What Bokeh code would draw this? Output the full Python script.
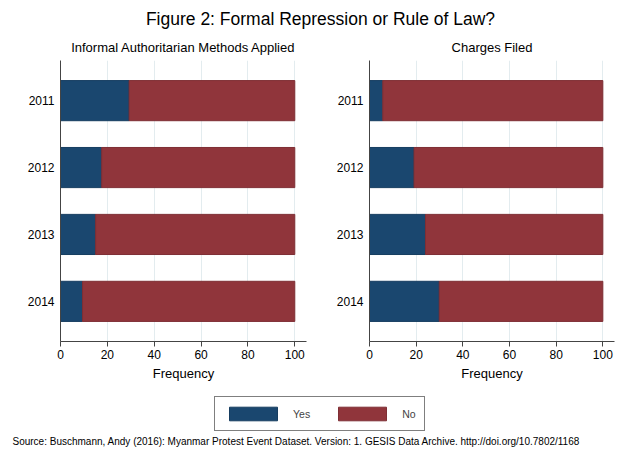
from bokeh.plotting import figure
from bokeh.models import (Range1d, FactorRange, Label, Legend, LegendItem,
                          ColumnDataSource, FixedTicker)
from bokeh.layouts import column, row
from bokeh.embed import file_html
from bokeh.resources import INLINE

# ---------------- data ----------------
years = ["2011", "2012", "2013", "2014"]
series = ["Yes", "No"]
informal_yes = [29.3, 17.6, 15.0, 9.4]
informal_no = [70.7, 82.4, 85.0, 90.6]
charges_yes = [5.7, 19.1, 24.0, 29.9]
charges_no = [94.3, 80.9, 76.0, 70.1]
x_ticks = [0, 20, 40, 60, 80, 100]
main_title = "Figure 2: Formal Repression or Rule of Law?"
panel_titles = ["Informal Authoritarian Methods Applied", "Charges Filed"]
x_label = "Frequency"
source_note = ("Source: Buschmann, Andy (2016): Myanmar Protest Event Dataset. "
               "Version: 1. GESIS Data Archive. http://doi.org/10.7802/1168")

# ---------------- style ----------------
NAVY = "#1a476f"
MAROON = "#90353b"
NAVY_EDGE = "#163d60"
MAROON_EDGE = "#7e2e34"
GRID = "#e3ecef"
AXIS = "#444444"
FONT = "Liberation Sans"
TOTAL_W = 630
TOP_H = 60
BOT_H = 64


def panel(yes, no, frame_w, left, right):
    src = ColumnDataSource(dict(year=years, Yes=yes, No=no))
    p = figure(title=None,
               y_range=FactorRange(factors=list(reversed(years)),
                                   range_padding=0.1, range_padding_units="absolute"),
               x_range=Range1d(0, 105),
               frame_width=frame_w, frame_height=281,
               min_border_left=left, min_border_right=right,
               min_border_top=0, min_border_bottom=49,
               output_backend="svg", toolbar_location=None,
               outline_line_color=None, background_fill_color="white",
               border_fill_color="white")
    p.hbar_stack(series, y="year", height=0.6, source=src,
                 fill_color=[NAVY, MAROON], line_color=[NAVY_EDGE, MAROON_EDGE],
                 line_width=1)
    # x axis
    xa = p.xaxis[0]
    xa.ticker = FixedTicker(ticks=x_ticks)
    xa.axis_label = x_label
    xa.axis_label_text_font = FONT
    xa.axis_label_text_font_style = "normal"
    xa.axis_label_text_font_size = "13px"
    xa.axis_label_text_color = "black"
    xa.axis_label_standoff = 4
    xa.major_label_text_font = FONT
    xa.major_label_text_font_size = "12px"
    xa.major_label_text_color = "black"
    xa.major_label_standoff = 3
    xa.major_tick_out = 5
    xa.major_tick_in = 0
    xa.major_tick_line_color = AXIS
    xa.minor_tick_line_color = None
    xa.axis_line_color = AXIS
    # y axis
    ya = p.yaxis[0]
    ya.major_label_text_font = FONT
    ya.major_label_text_font_size = "12px"
    ya.major_label_text_color = "black"
    ya.major_label_standoff = 6
    ya.major_tick_out = 0
    ya.major_tick_in = 0
    ya.major_tick_line_color = None
    ya.axis_line_color = AXIS
    # grid
    p.ygrid.grid_line_color = None
    p.xgrid.ticker = FixedTicker(ticks=x_ticks)
    p.xgrid.grid_line_color = GRID
    p.xgrid.grid_line_width = 1
    return p


p1 = panel(informal_yes, informal_no, 246, 60, 9)
p2 = panel(charges_yes, charges_no, 245, 54, 16)

# ---------------- header (titles) ----------------
top = figure(width=TOTAL_W, height=TOP_H, x_range=Range1d(0, TOTAL_W), y_range=Range1d(TOP_H, 0),
             x_axis_location=None, y_axis_location=None, min_border=0,
             output_backend="svg", toolbar_location=None, outline_line_color=None,
             background_fill_color="white", border_fill_color="white", title=None)
top.grid.visible = False
top.add_layout(Label(x=320, y=18, text=main_title, text_align="center",
                     text_baseline="middle", text_font=FONT, text_font_size="17.5px",
                     text_color="black"))
for cx, t in zip([183, 491.5], panel_titles):
    top.add_layout(Label(x=cx, y=47, text=t, text_align="center", text_baseline="middle",
                         text_font=FONT, text_font_size="13px", text_color="black"))

# ---------------- footer (legend + source) ----------------
bot = figure(width=TOTAL_W, height=BOT_H, x_range=Range1d(0, TOTAL_W), y_range=Range1d(BOT_H, 0),
             x_axis_location=None, y_axis_location=None, min_border=0,
             output_backend="svg", toolbar_location=None, outline_line_color=None,
             background_fill_color="white", border_fill_color="white", title=None)
bot.grid.visible = False
nan = float("nan")
r_yes = bot.hbar(y=[nan], right=[nan], height=1, fill_color=NAVY, line_color=NAVY_EDGE)
r_no = bot.hbar(y=[nan], right=[nan], height=1, fill_color=MAROON, line_color=MAROON_EDGE)
legend = Legend(items=[LegendItem(label=series[0], renderers=[r_yes]),
                       LegendItem(label=series[1], renderers=[r_no])],
                orientation="horizontal", location=(214, 23),
                glyph_width=60, glyph_height=17, label_height=17, label_width=0,
                label_standoff=10, spacing=22, padding=8, margin=0,
                label_text_font=FONT, label_text_font_size="10.5px",
                border_line_color="black", border_line_width=1,
                background_fill_color="white", background_fill_alpha=1)
bot.add_layout(legend, "center")
bot.add_layout(Label(x=12, y=51, text=source_note, text_align="left", text_baseline="middle",
                     text_font=FONT, text_font_size="10px", text_color="black"))

layout = column(top, row(p1, p2), bot)
open("out.html", "w").write(file_html(layout, INLINE))
